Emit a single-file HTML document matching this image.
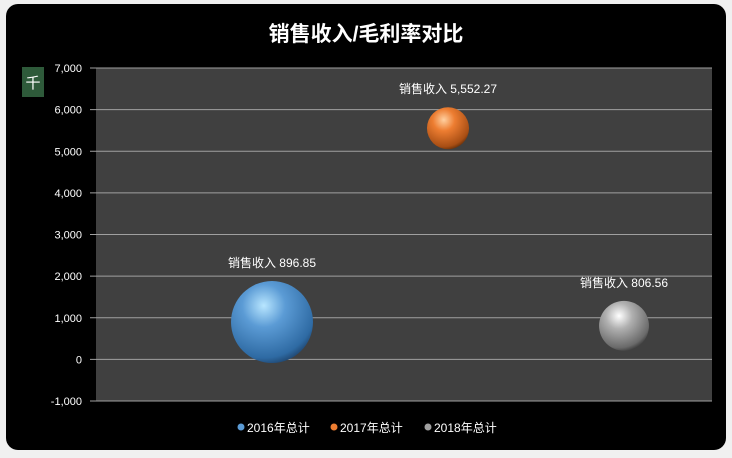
<!DOCTYPE html>
<html><head><meta charset="utf-8"><style>
body{margin:0;background:#f0f0f0;width:732px;height:453px;overflow:hidden;font-family:"Liberation Sans","Noto Sans CJK SC",sans-serif}
</style></head><body>
<svg id="c" width="732" height="453">
<defs>
<radialGradient id="gb" cx="0.4" cy="0.3" r="0.75"><stop offset="0" stop-color="#b8e6ff"/><stop offset="0.35" stop-color="#5b9bd5"/><stop offset="0.85" stop-color="#2e6aa3"/><stop offset="1" stop-color="#1c3f66"/></radialGradient>
<radialGradient id="go" cx="0.4" cy="0.3" r="0.75"><stop offset="0" stop-color="#ffd0a0"/><stop offset="0.35" stop-color="#ed7d31"/><stop offset="0.85" stop-color="#a84e14"/><stop offset="1" stop-color="#5a2a08"/></radialGradient>
<radialGradient id="gg" cx="0.4" cy="0.3" r="0.75"><stop offset="0" stop-color="#ffffff"/><stop offset="0.35" stop-color="#b0b0b0"/><stop offset="0.85" stop-color="#6a6a6a"/><stop offset="1" stop-color="#333"/></radialGradient>
</defs>
<rect x="6" y="4" width="720" height="446" rx="12" fill="#000"/>
<text x="366" y="41" fill="#fff" font-size="21" font-weight="bold" text-anchor="middle">销售收入/毛利率对比</text>
<rect x="22" y="67" width="22" height="30" fill="#2e5a3a"/>
<text x="33" y="88" fill="#fff" font-size="15" text-anchor="middle">千</text>
<rect x="96" y="68" width="616" height="333" fill="#404040"/>
<g id="grid"></g><g id="bub"></g><g id="leg"></g>
</svg>
<script>
const yTicks=[-1000,0,1000,2000,3000,4000,5000,6000,7000];
const tickLabels=["-1,000","0","1,000","2,000","3,000","4,000","5,000","6,000","7,000"];
const series=["2016年总计","2017年总计","2018年总计"];
const xVals=[1,2,3];
const yVals=[896.85,5552.27,806.56];
const sizeVals=[27,7.1,10];
const fills=["url(#gb)","url(#go)","url(#gg)"];
const legendColors=["#5b9bd5","#ed7d31","#a0a0a0"];
const NS="http://www.w3.org/2000/svg";
const X=v=>96+v*616/3.5, Y=v=>401-(v+1000)*333/8000, R=s=>7.89*Math.sqrt(s);
function mk(t,a,p){const e=document.createElementNS(NS,t);for(const k in a)e.setAttribute(k,a[k]);p.appendChild(e);return e;}
const g=document.getElementById('grid');
yTicks.forEach((t,i)=>{
 const l=mk('line',{x1:90,x2:712,y1:Y(t),y2:Y(t),stroke:'#a0a0a0','stroke-width':1},g);
 
 
 const tx=mk('text',{x:82,y:Y(t)+4,fill:'#fff','font-size':11,'text-anchor':'end'},g);
 tx.textContent=tickLabels[i];
 
 
});
const b=document.getElementById('bub');
yVals.forEach((v,i)=>{
 const c=mk('circle',{cx:X(xVals[i]),cy:Y(v),r:R(sizeVals[i]),fill:fills[i]},b);
 
 
 const t=mk('text',{x:X(xVals[i]),y:Y(v)-R(sizeVals[i])-14,fill:'#fff','font-size':12,'text-anchor':'middle'},b);
 t.textContent='销售收入 '+v.toLocaleString('en-US',{minimumFractionDigits:2});
 
 
});
const lg=document.getElementById('leg');
const lx=[241,334,428];
series.forEach((s,i)=>{
 const c=mk('circle',{cx:lx[i],cy:427,r:3.5,fill:legendColors[i]},lg);
 
 
 const t=mk('text',{x:lx[i]+6,y:432,fill:'#fff','font-size':12},lg);
 t.textContent=s;
 
 
});
</script>
</body></html>
